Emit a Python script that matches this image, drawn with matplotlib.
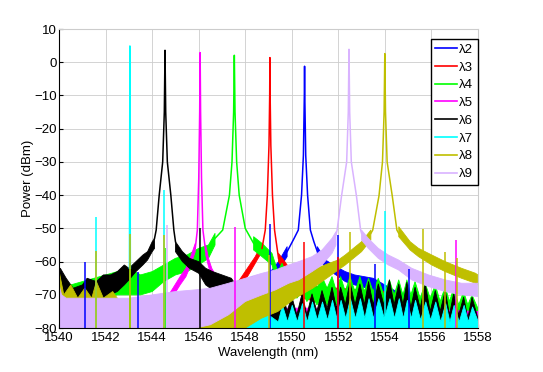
import numpy as np
import matplotlib
matplotlib.use("Agg")
import matplotlib.pyplot as plt
from matplotlib.lines import Line2D

nan = np.nan

labels = ["λ2", "λ3", "λ4", "λ5", "λ6", "λ7", "λ8", "λ9"]
colours = ["#0000ff", "#ff0000", "#00ff00", "#ff00ff", "#000000",
           "#00ffff", "#bfbf00", "#d9b3ff"]

# shared ripple grid on the long-wavelength side (valley, tip, valley, ...)
ripple_wl = [1549.4, 1549.58, 1549.8, 1550.0, 1550.22, 1550.44, 1550.65, 1550.87,
             1551.08, 1551.3, 1551.52, 1551.73, 1551.92, 1552.1, 1552.3, 1552.5,
             1552.72, 1552.93, 1553.12, 1553.3, 1553.5, 1553.72, 1553.96, 1554.2,
             1554.4, 1554.6, 1554.78, 1554.95, 1555.12, 1555.3, 1555.52, 1555.74,
             1555.95, 1556.17, 1556.38, 1556.6, 1556.78, 1556.96, 1557.18, 1557.39,
             1557.57, 1557.75, 1558.0]

# lambda 2 (blue)
l2_band_wl = [1540, 1542, 1544, 1546, 1547.5, 1548.3, 1548.8, 1549.15, 1549.43, 1549.8,
              1550.5, 1551.1, 1551.45, 1551.9, 1552.3, 1552.7, 1553.5, 1554.5, 1555.5,
              1556.5, 1558]
l2_band_hi = [-72, -72, -72, -71, -68, -64.5, -64, -62.5, -60, -55.5, nan, -55.5, -59.5,
              -61.5, -63, -64, -65, -69, -71, -73, -74]
l2_band_lo = [-78, -78, -78, -77, -72, -67, -66.5, -65, -62.5, -58.5, nan, -58, -62,
              -64, -66, -67, -68.5, -72, -74, -76, -78]
l2_peak_wl = [1549.8, 1550.1, 1550.28, 1550.42, 1550.5, 1550.54, 1550.55, 1550.56,
              1550.6, 1550.68, 1550.8, 1550.95, 1551.1]
l2_peak_dbm = [-57, -53, -50.5, -40, -28, -10, -1.2, -10, -28, -40, -50.5, -54, -57]
l2_spur_wl = [1541.1, 1543.4, 1549.07, 1552.0, 1553.58, 1555.05]
l2_spur_dbm = [-60.2, -63, -48.7, -52, -60.7, -62.2]

# lambda 3 (red)
l3_band_wl = [1540, 1543, 1546, 1547.6, 1547.85, 1548.14, 1548.43, 1548.72, 1549.06,
              1549.43, 1549.65, 1549.9, 1550.5, 1551, 1552, 1554, 1556, 1558]
l3_band_hi = [-74, -74, -72, -67, -64.5, -61.5, -58.5, -54.5, nan, -57.5, -59.5, -62,
              -67, -67.5, -68, -69, -72, -74]
l3_band_lo = [-79, -79, -77, -70, -67, -64, -60.5, -57, nan, -60, -62.5, -66,
              -71, -72, -73, -75, -77, -79]
l3_peak_wl = [1548.72, 1548.86, 1548.95, 1549.02, 1549.05, 1549.06, 1549.07, 1549.1,
              1549.17, 1549.26, 1549.43]
l3_peak_dbm = [-56, -50.5, -40, -25, -10, 1.4, -10, -25, -40, -50.5, -59]
l3_spur_wl = [1550.54, 1552.0]
l3_spur_dbm = [-54, -58.7]

# lambda 4 (green)
l4_band_wl = [1540, 1540.5, 1541, 1541.5, 1542, 1542.5, 1543, 1543.5, 1544, 1544.5,
              1545, 1545.5, 1546, 1546.42, 1546.7, 1547.53, 1548.36, 1548.72, 1549.15]
l4_band_hi = [-65, -67, -66, -65, -64, -63, -62, -64, -63, -61, -59, -58, -56, -55,
              -51.5, nan, -52.5, -54.5, -57.5]
l4_band_lo = [-72, -72, -72, -71, -71, -70, -70, -70, -69, -66, -64, -63, -61, -59,
              -55, nan, -56.5, -58.5, -61]
l4_ripple_hi = [-63, -60.5, -64, -62, -66, -63, -67, -64, -68, -64.5, -68, -64.5,
                -69, -64.5, -69, -64.5, -69, -64.5, -69, -65, -69, -65, -70, -65.5,
                -70, -65.5, -70, -65.5, -70, -66, -71, -66.5, -71, -67, -72, -67.5,
                -72, -68, -73, -69, -73, -70, -74]
l4_ripple_lo = [-67, -64, -69, -67, -71, -69, -72, -70, -73, -71, -73, -71, -73, -71,
                -73, -71, -73, -71, -73, -71, -73, -71, -73, -71, -74, -72, -74, -72,
                -74, -72, -74, -72, -75, -73, -75, -73, -76, -74, -76, -75, -77, -76,
                -78]
l4_peak_wl = [1546.7, 1547.03, 1547.32, 1547.43, 1547.5, 1547.53, 1547.56, 1547.63,
              1547.74, 1548.0, 1548.36]
l4_peak_dbm = [-53, -50.5, -40, -30, -15, 2.1, -15, -30, -40, -50, -54.5]
l4_spur_wl = [1543.04, 1544.55]
l4_spur_dbm = [-57, -56]

# lambda 5 (magenta)
l5_band_wl = [1540, 1543, 1544.5, 1544.8, 1545.2, 1545.45, 1545.63, 1545.85, 1546.06,
              1546.3, 1546.42, 1546.56, 1546.8, 1547.2, 1547.8, 1549, 1551, 1554, 1558]
l5_band_hi = [-75, -75, -73, -69, -64.5, -62, -59, -54.5, nan, -55, -59, -62, -65, -68,
              -72, -74, -74, -74, -75]
l5_band_lo = [-80, -80, -76, -71.5, -67, -64.5, -61.5, -57, nan, -58, -61.5, -64.5,
              -68, -72, -78, -79, -79, -79, -80]
l5_peak_wl = [1545.85, 1545.94, 1546.0, 1546.04, 1546.06, 1546.08, 1546.12, 1546.18,
              1546.3]
l5_peak_dbm = [-56, -50.5, -35, -15, 2.9, -15, -35, -50.5, -57]
l5_spur_wl = [1547.54, 1557.06]
l5_spur_dbm = [-49.7, -53.5]

# lambda 6 (black)
l6_band_wl = [1540, 1540.05, 1540.3, 1540.6, 1541.0, 1541.2, 1541.6, 1541.9, 1542.2,
              1542.5, 1542.8, 1543.0, 1543.3, 1543.6, 1543.8, 1544.0, 1544.1, 1544.55,
              1545.0, 1545.3, 1545.6, 1546.0, 1546.3, 1546.6, 1547.0, 1547.4, 1547.6,
              1548.0, 1548.5, 1549.0]
l6_band_hi = [-66, -62, -65, -68, -67, -65, -66, -64, -64, -63, -61, -62, -60, -58,
              -57, -54, -53, nan, -54, -57, -59, -60, -62, -63, -64, -65, -67, -71,
              -73, -74]
l6_band_lo = [-71, -70, -71, -73, -72, -71, -73, -71, -70, -69, -67, -65.5, -63, -61,
              -59.5, -57, -56, nan, -57, -60, -62, -63.5, -67, -68.5, -70, -71, -73,
              -77, -78, -78]
l6_ripple_hi = [-75, -68.7, -75, -70.5, -76, -69.7, -76, -69.7, -75, -68.7, -74, -67.7,
                -74, -67.7, -73, -66.2, -73, -66.7, -73, -66, -73, -66.7, -73, -65.5,
                -73, -66.7, -73, -66.2, -74, -67.7, -74, -66.7, -75, -68.7, -75, -68.7,
                -76, -69.7, -76, -70.7, -77, -70.7, -77]
l6_ripple_lo = [-78, -77, -78, -77, -78, -77, -78, -77, -78, -77, -78, -77,
                -78, -76, -78, -76, -78, -76, -78, -76, -78, -76, -78, -76, -78, -76,
                -78, -76, -78, -77, -78, -77, -78, -77, -78, -77,
                -79, -78, -79, -78, -79, -78, -79]
l6_peak_wl = [1544.1, 1544.17, 1544.3, 1544.45, 1544.52, 1544.55, 1544.58, 1544.65,
              1544.8, 1544.93, 1545.0]
l6_peak_dbm = [-53, -50.5, -40, -30, -15, 3.6, -15, -30, -40, -50.5, -54]
l6_spur_wl = [1546.06]
l6_spur_dbm = [-50]

# lambda 7 (cyan)
l7_band_wl = [1540, 1542, 1544, 1546, 1548, 1549.0]
l7_band_hi = [-75, -75, -74, -73, -74, -76]
l7_ripple_hi = [-78, -73, -78, -73, -78, -72.5, -78, -72, -77.5, -72, -77.5, -71.5,
                -77, -71.5, -77, -71, -77, -71, -77, -71, -77, -71, -77, -71, -77, -71,
                -77, -71.5, -77, -71.5, -77.5, -72, -77.5, -72, -78, -72.5, -78, -73,
                -78, -73, -78, -73.5, -78]
l7_peak_wl = [1543.02, 1543.04, 1543.06]
l7_peak_dbm = [-62, 4.9, -62]
l7_spur_wl = [1541.57, 1544.51, 1554.01]
l7_spur_dbm = [-46.5, -38.5, -44.9]

# lambda 8 (olive)
l8_band_wl = [1540, 1540.2, 1540.5, 1540.8, 1541.1, 1541.4, 1541.6, 1541.9, 1542.3,
              1542.6, 1543.5, 1545, 1546.5, 1547.5, 1548, 1548.7, 1549.4, 1550.15,
              1550.9, 1551.6, 1552.0, 1552.3, 1552.65, 1553.0, 1553.4, 1554.0, 1554.6,
              1555.09, 1555.45, 1556.02, 1556.6, 1557.3, 1557.9, 1558]
l8_band_hi = [-63, -70, -67, -71, -68, -71, -66, -71, -69, -72, -73, -74, -73, -72,
              -70, -68, -67, -65, -62.5, -60.5, -59.5, -58, -56, -54, -50.5, nan,
              -49.5, -54, -56, -58, -60, -62, -63.5, -64]
l8_band_lo = [-75, -76, -75, -76, -75, -76, -75, -77, -77, -78, -79, -80, -80, -80,
              -80, -77, -75, -71, -68, -64.5, -62.5, -61, -59, -57, -53.5, nan,
              -52.5, -56.5, -58.5, -61, -63, -65, -66.5, -67]
l8_peak_wl = [1553.4, 1553.48, 1553.75, 1553.9, 1553.97, 1554.0, 1554.03, 1554.1,
              1554.32, 1554.52, 1554.6]
l8_peak_dbm = [-51.5, -50.5, -40.2, -30, -15, 2.6, -15, -30, -40.2, -50.5, -51.5]
l8_spur_wl = [1541.57, 1543.04, 1544.5, 1549.03, 1552.5, 1555.66, 1556.6, 1557.1]
l8_spur_dbm = [-56.7, -51.7, -52, -58, -51.2, -50.2, -57, -59]

# lambda 9 (lavender)
l9_band_wl = [1540, 1540.1, 1540.3, 1541, 1542, 1543, 1544, 1545, 1545.84, 1546.5,
              1547.28, 1548, 1548.72, 1549.3, 1549.87, 1550.3, 1550.87, 1551.3,
              1551.73, 1551.9, 1552.46, 1553.0, 1553.29, 1553.72, 1554.15, 1554.59,
              1555.16, 1555.88, 1556.6, 1557.3, 1558]
l9_band_hi = [-67, -70, -71, -71, -71, -71, -70, -69, -68.5, -68, -66.5, -65, -63.5,
              -62.5, -61, -60, -58.5, -56.5, -53, -51, nan, -50.5, -53, -56, -58,
              -59.5, -62, -64, -65.5, -66.5, -66.5]
l9_band_lo = [-80, -80, -80, -80, -80, -80, -80, -80, -80, -79, -76, -72, -70, -68.5,
              -66.5, -65.5, -63, -61, -57.5, -55, nan, -53.5, -56, -59, -61, -62.5,
              -65.5, -67.5, -69, -70, -70.5]
l9_peak_wl = [1551.9, 1551.95, 1552.14, 1552.36, 1552.43, 1552.46, 1552.49, 1552.56,
              1552.78, 1552.96, 1553.0]
l9_peak_dbm = [-52, -50.5, -40.2, -30, -15, 3.9, -15, -30, -40.2, -50.5, -51.5]
l9_spur_wl = [1544.62]
l9_spur_dbm = [-49]

y_floor = -80

channels = [
    (l2_band_wl, l2_band_hi, l2_band_lo, l2_peak_wl, l2_peak_dbm, l2_spur_wl, l2_spur_dbm),
    (l3_band_wl, l3_band_hi, l3_band_lo, l3_peak_wl, l3_peak_dbm, l3_spur_wl, l3_spur_dbm),
    (l4_band_wl + ripple_wl, l4_band_hi + l4_ripple_hi, l4_band_lo + l4_ripple_lo,
     l4_peak_wl, l4_peak_dbm, l4_spur_wl, l4_spur_dbm),
    (l5_band_wl, l5_band_hi, l5_band_lo, l5_peak_wl, l5_peak_dbm, l5_spur_wl, l5_spur_dbm),
    (l6_band_wl + ripple_wl, l6_band_hi + l6_ripple_hi, l6_band_lo + l6_ripple_lo,
     l6_peak_wl, l6_peak_dbm, l6_spur_wl, l6_spur_dbm),
    (l7_band_wl + ripple_wl, l7_band_hi + l7_ripple_hi,
     [y_floor] * (len(l7_band_wl) + len(ripple_wl)),
     l7_peak_wl, l7_peak_dbm, l7_spur_wl, l7_spur_dbm),
    (l8_band_wl, l8_band_hi, l8_band_lo, l8_peak_wl, l8_peak_dbm, l8_spur_wl, l8_spur_dbm),
    (l9_band_wl, l9_band_hi, l9_band_lo, l9_peak_wl, l9_peak_dbm, l9_spur_wl, l9_spur_dbm),
]

plt.rcParams['font.family'] = ['Liberation Sans', 'DejaVu Sans']

fig = plt.figure(figsize=(5.43, 3.72), dpi=100)
ax = fig.add_axes([0.109, 0.118, 0.771, 0.804])

for colour, (bwl, bhi, blo, pwl, pdb, swl, sdb) in zip(colours, channels):
    ax.vlines(swl, y_floor, sdb, colors=colour, lw=1.1)
    ax.fill_between(bwl, np.ma.masked_invalid(blo), np.ma.masked_invalid(bhi),
                    color=colour, lw=0.6, edgecolor=colour)
    ax.plot(pwl, pdb, color=colour, lw=1.1)

ax.set_xlim(1540, 1558)
ax.set_ylim(-80, 10)
ax.set_xticks(range(1540, 1559, 2))
ax.set_yticks(range(-80, 11, 10))
ax.tick_params(direction='in', length=3, labelsize=9.5)
ax.tick_params(axis='x', pad=3)
ax.tick_params(axis='y', pad=1.5)
ax.grid(True, color='#cccccc', lw=0.6)
ax.set_axisbelow(True)
for side in ['top', 'right']:
    ax.spines[side].set_color('#cccccc')
ax.set_xlabel('Wavelength (nm)', fontsize=9.5, labelpad=2)
ax.set_ylabel('Power (dBm)', fontsize=9.5, labelpad=0)

handles = [Line2D([0], [0], color=c, lw=1.2) for c in colours]
leg = ax.legend(handles, labels, loc='upper right', bbox_to_anchor=(1.0, 0.967),
                borderaxespad=0, fontsize=9.5, fancybox=False, framealpha=1,
                edgecolor='black', handlelength=1.6, handletextpad=0.2,
                labelspacing=0.42, borderpad=0.35)
leg.get_frame().set_linewidth(1.0)

fig.savefig('out.png', dpi=100)
